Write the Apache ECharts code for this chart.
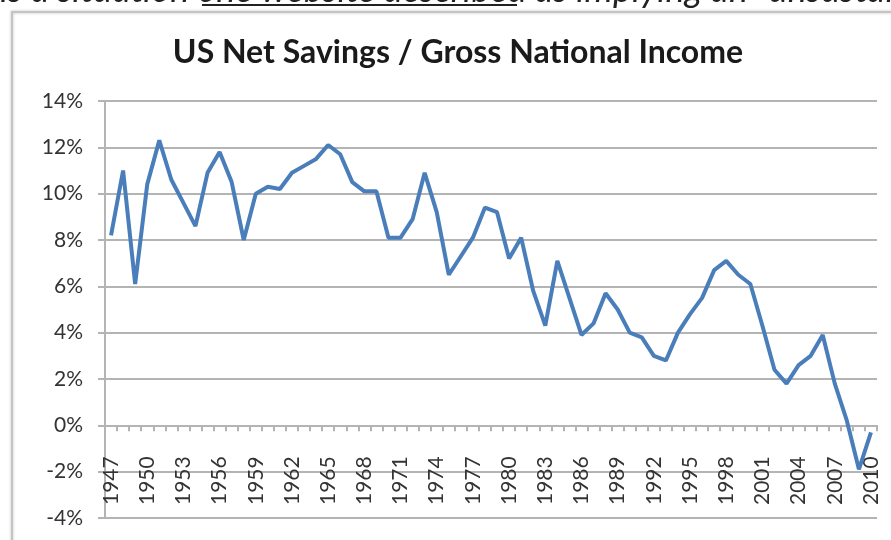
<!DOCTYPE html>
<html>
<head>
<meta charset="utf-8">
<script src="https://cdn.jsdelivr.net/npm/echarts@6/dist/echarts.min.js"></script>
<style>
    html, body { margin: 0; padding: 0; background: #fff; }
    #chart { width: 891px; height: 540px; }
</style>
</head>
<body>
<div id="chart"></div>
<script>
    // 年份
    const years = ['1947', '1948', '1949', '1950', '1951', '1952', '1953', '1954', '1955', '1956',
        '1957', '1958', '1959', '1960', '1961', '1962', '1963', '1964', '1965', '1966',
        '1967', '1968', '1969', '1970', '1971', '1972', '1973', '1974', '1975', '1976',
        '1977', '1978', '1979', '1980', '1981', '1982', '1983', '1984', '1985', '1986',
        '1987', '1988', '1989', '1990', '1991', '1992', '1993', '1994', '1995', '1996',
        '1997', '1998', '1999', '2000', '2001', '2002', '2003', '2004', '2005', '2006',
        '2007', '2008', '2009', '2010']

    // 净储蓄 / 国民总收入 (%)
    const netSavings = [8.2, 11.0, 6.1, 10.4, 12.3, 10.6, 9.6, 8.6, 10.9, 11.8,
        10.5, 8.0, 10.0, 10.3, 10.2, 10.9, 11.2, 11.5, 12.1, 11.7,
        10.5, 10.1, 10.1, 8.1, 8.1, 8.9, 10.9, 9.2, 6.5, 7.3,
        8.1, 9.4, 9.2, 7.2, 8.1, 5.8, 4.3, 7.1, 5.5, 3.9,
        4.4, 5.7, 5.0, 4.0, 3.8, 3.0, 2.8, 4.0, 4.8, 5.5,
        6.7, 7.1, 6.5, 6.1, 4.3, 2.4, 1.8, 2.6, 3.0, 3.9,
        1.8, 0.2, -1.9, -0.3]

    // y轴范围
    const yMin = -4
    const yMax = 14
    const yStep = 2

    const titleText = 'US Net Savings / Gross National Income'
    const topText = 'is a situation one website described as implying an \u201cunsustainable'

    const font = 'Lato, "Open Sans", sans-serif'
    const gridColor = '#b4b4b4'

    // 绘图区位置
    const gridTop = 101
    const gridBottom = 22
    const plotHeight = 540 - gridTop - gridBottom
    // x轴放在 0% 处：从底部往上移
    const zeroOffset = -plotHeight * (0 - yMin) / (yMax - yMin)

    const chart = echarts.init(document.getElementById('chart'))
    chart.setOption({
        animation: false,
        title: {
            text: titleText,
            left: 453,
            textAlign: 'center',
            top: 32,
            textStyle: {
                fontFamily: font,
                fontWeight: 'bold',
                fontSize: 32,
                color: '#1a1a1a'
            }
        },
        graphic: [
            // 图表外框
            {
                type: 'rect',
                silent: true,
                shape: { x: 12, y: 12, width: 920, height: 600 },
                style: { fill: 'none', stroke: '#c4c4c4', lineWidth: 2, shadowBlur: 3, shadowColor: 'rgba(0,0,0,0.25)' }
            },
            // 顶部被截断的正文
            {
                type: 'text',
                silent: true,
                x: 0,
                y: 8,
                style: {
                    text: topText,
                    fontFamily: font,
                    fontStyle: 'italic',
                    fontSize: 36,
                    fill: '#222',
                    textVerticalAlign: 'bottom'
                }
            },
            {
                type: 'line',
                silent: true,
                shape: { x1: 202, y1: 5, x2: 517, y2: 5 },
                style: { stroke: '#222', lineWidth: 2 }
            }
        ],
        grid: {
            left: 105,
            right: 14,
            top: gridTop,
            bottom: gridBottom,
            containLabel: false,
            outerBoundsMode: 'none'
        },
        xAxis: {
            type: 'category',
            data: years,
            boundaryGap: true,
            position: 'bottom',
            offset: zeroOffset,
            axisLine: {
                onZero: false,
                lineStyle: { color: gridColor, width: 2 }
            },
            axisTick: {
                show: true,
                interval: 0,
                length: 6,
                lineStyle: { color: gridColor, width: 2 }
            },
            axisLabel: {
                interval: 2,
                rotate: 90,
                margin: 31,
                fontFamily: font,
                fontSize: 21,
                color: '#333'
            },
            splitLine: { show: false }
        },
        yAxis: {
            type: 'value',
            min: yMin,
            max: yMax,
            interval: yStep,
            axisLine: {
                show: true,
                lineStyle: { color: gridColor, width: 2 }
            },
            axisTick: {
                show: true,
                length: 7,
                lineStyle: { color: gridColor, width: 2 }
            },
            axisLabel: {
                formatter: '{value}%',
                margin: 22,
                fontFamily: font,
                fontSize: 21,
                color: '#333'
            },
            splitLine: {
                show: true,
                lineStyle: { color: gridColor, width: 2 }
            }
        },
        series: [{
            type: 'line',
            data: netSavings,
            showSymbol: false,
            smooth: false,
            lineStyle: { color: '#4a7ebb', width: 4 },
            itemStyle: { color: '#4a7ebb' }
        }]
    })
</script>
</body>
</html>
